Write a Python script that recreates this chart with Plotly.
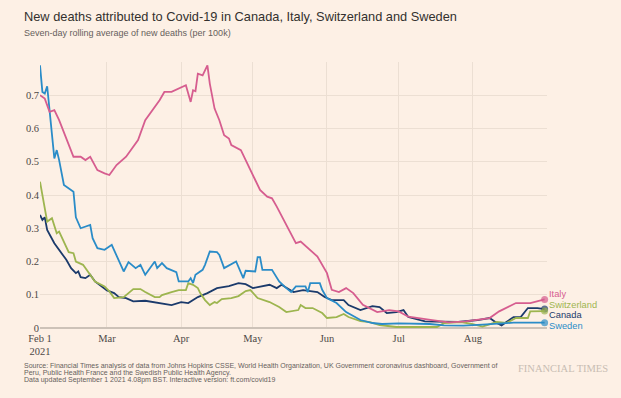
import plotly.graph_objects as go

# ---- Data ----
italy_dates = ["2021-02-01","2021-02-03","2021-02-05","2021-02-07","2021-02-09","2021-02-11","2021-02-13","2021-02-15",
               "2021-02-18","2021-02-20","2021-02-22","2021-02-25","2021-02-28","2021-03-02","2021-03-05","2021-03-09",
               "2021-03-14","2021-03-17","2021-03-23","2021-03-25","2021-03-28","2021-04-01","2021-04-03","2021-04-05",
               "2021-04-06","2021-04-07","2021-04-08","2021-04-10","2021-04-12","2021-04-13","2021-04-15","2021-04-17",
               "2021-04-19","2021-04-21","2021-04-22","2021-04-26","2021-04-28","2021-05-01","2021-05-04","2021-05-07",
               "2021-05-09","2021-05-11","2021-05-16","2021-05-19","2021-05-21","2021-05-24","2021-05-28","2021-06-01",
               "2021-06-03","2021-06-06","2021-06-09","2021-06-12","2021-06-16","2021-06-22","2021-06-27","2021-07-01",
               "2021-07-05","2021-07-15","2021-07-22","2021-07-29","2021-08-08","2021-08-12","2021-08-19","2021-08-25",
               "2021-08-31"]
italy_vals = [0.70,0.69,0.65,0.655,0.625,0.59,0.55,0.515,
              0.515,0.505,0.515,0.475,0.465,0.46,0.49,0.515,
              0.565,0.625,0.685,0.71,0.71,0.725,0.73,0.68,
              0.715,0.712,0.765,0.76,0.79,0.735,0.66,0.625,
              0.58,0.57,0.55,0.535,0.505,0.455,0.415,0.395,
              0.39,0.365,0.295,0.255,0.26,0.24,0.215,0.165,
              0.115,0.108,0.12,0.105,0.07,0.048,0.054,0.05,
              0.034,0.024,0.017,0.02,0.03,0.05,0.075,0.075,
              0.086]

swiss_dates = ["2021-02-01","2021-02-03","2021-02-04","2021-02-06","2021-02-08","2021-02-09","2021-02-11","2021-02-13",
               "2021-02-15","2021-02-16","2021-02-19","2021-02-22","2021-02-24","2021-02-28","2021-03-02","2021-03-04",
               "2021-03-08","2021-03-12","2021-03-15","2021-03-17","2021-03-21","2021-03-23","2021-03-24","2021-03-28",
               "2021-03-31","2021-04-03","2021-04-04","2021-04-06","2021-04-08","2021-04-09","2021-04-11","2021-04-13",
               "2021-04-15","2021-04-16","2021-04-18","2021-04-22","2021-04-25","2021-04-28","2021-04-30","2021-05-03",
               "2021-05-08","2021-05-12","2021-05-15","2021-05-20","2021-05-21","2021-05-23","2021-05-26","2021-05-30",
               "2021-06-01","2021-06-05","2021-06-08","2021-06-10","2021-06-15","2021-06-19","2021-06-23","2021-06-30",
               "2021-07-17","2021-07-20","2021-07-27","2021-08-01","2021-08-05","2021-08-11","2021-08-15","2021-08-19",
               "2021-08-24","2021-08-25","2021-08-31"]
swiss_vals = [0.44,0.365,0.32,0.33,0.285,0.29,0.26,0.228,
              0.225,0.20,0.19,0.16,0.14,0.125,0.11,0.09,
              0.093,0.117,0.117,0.108,0.093,0.093,0.099,0.108,
              0.114,0.114,0.135,0.13,0.12,0.105,0.084,0.069,
              0.078,0.075,0.087,0.09,0.096,0.111,0.114,0.09,
              0.078,0.063,0.048,0.054,0.069,0.06,0.06,0.045,
              0.03,0.033,0.042,0.033,0.021,0.018,0.009,0.003,
              0.003,0.015,0.018,0.012,0.004,0.018,0.015,0.03,
              0.03,0.05,0.051]

canada_dates = ["2021-02-01","2021-02-02","2021-02-03","2021-02-04","2021-02-07","2021-02-10","2021-02-12","2021-02-14",
                "2021-02-16","2021-02-17","2021-02-18","2021-02-20","2021-02-22","2021-02-24","2021-02-28","2021-03-01",
                "2021-03-04","2021-03-06","2021-03-09","2021-03-12","2021-03-17","2021-03-23","2021-03-28","2021-04-01",
                "2021-04-04","2021-04-08","2021-04-12","2021-04-16","2021-04-21","2021-04-25","2021-04-28","2021-05-01",
                "2021-05-04","2021-05-08","2021-05-11","2021-05-13","2021-05-18","2021-05-22","2021-05-28","2021-05-31",
                "2021-06-03","2021-06-08","2021-06-10","2021-06-15","2021-06-20","2021-06-23","2021-06-26","2021-06-30",
                "2021-07-03","2021-07-05","2021-07-12","2021-07-19","2021-07-26","2021-08-03","2021-08-08","2021-08-11",
                "2021-08-13","2021-08-18","2021-08-21","2021-08-24","2021-08-28","2021-08-31"]
canada_vals = [0.34,0.325,0.333,0.295,0.255,0.225,0.205,0.18,
               0.165,0.17,0.153,0.15,0.16,0.14,0.12,0.113,
               0.105,0.093,0.09,0.08,0.082,0.076,0.069,0.078,
               0.075,0.093,0.105,0.12,0.126,0.135,0.132,0.12,
               0.125,0.13,0.12,0.13,0.108,0.114,0.108,0.093,
               0.084,0.084,0.069,0.054,0.066,0.063,0.045,0.048,
               0.054,0.033,0.02,0.018,0.018,0.024,0.03,0.015,
               0.008,0.033,0.033,0.06,0.06,0.057]

sweden_dates = ["2021-02-01","2021-02-02","2021-02-03","2021-02-04","2021-02-07","2021-02-08","2021-02-09","2021-02-11",
                "2021-02-15","2021-02-16","2021-02-18","2021-02-22","2021-02-23","2021-02-25","2021-02-28","2021-03-03",
                "2021-03-08","2021-03-10","2021-03-13","2021-03-15","2021-03-17","2021-03-21","2021-03-22","2021-03-24",
                "2021-03-26","2021-03-30","2021-03-31","2021-04-04","2021-04-05","2021-04-06","2021-04-07","2021-04-10",
                "2021-04-11","2021-04-13","2021-04-16","2021-04-17","2021-04-19","2021-04-24","2021-04-27","2021-04-28",
                "2021-05-02","2021-05-03","2021-05-04","2021-05-05","2021-05-09","2021-05-12","2021-05-15","2021-05-17",
                "2021-05-19","2021-05-23","2021-05-24","2021-05-25","2021-05-29","2021-05-30","2021-06-01","2021-06-05",
                "2021-06-09","2021-06-15","2021-06-20","2021-06-24","2021-07-01","2021-07-08","2021-07-14","2021-07-20",
                "2021-07-28","2021-08-05","2021-08-12","2021-08-18","2021-08-31"]
sweden_vals = [0.79,0.71,0.705,0.727,0.51,0.535,0.505,0.43,
               0.41,0.333,0.30,0.31,0.27,0.24,0.235,0.25,
               0.17,0.198,0.18,0.19,0.16,0.20,0.18,0.195,
               0.18,0.168,0.14,0.14,0.15,0.135,0.16,0.175,
               0.19,0.23,0.228,0.22,0.18,0.20,0.15,0.172,
               0.17,0.213,0.213,0.175,0.175,0.14,0.12,0.108,
               0.125,0.125,0.108,0.135,0.135,0.115,0.09,0.075,
               0.048,0.024,0.015,0.012,0.014,0.014,0.012,0.008,
               0.007,0.01,0.014,0.016,0.016]

series = [
    ("Canada", canada_dates, canada_vals, "#1b3a6b"),
    ("Switzerland", swiss_dates, swiss_vals, "#9db54f"),
    ("Sweden", sweden_dates, sweden_vals, "#2a8cc8"),
    ("Italy", italy_dates, italy_vals, "#d65d8f"),
]

tick_vals_x = ["2021-02-01","2021-03-01","2021-04-01","2021-05-01","2021-06-01","2021-07-01","2021-08-01"]
tick_text_x = ["Feb 1<br>2021","Mar","Apr","May","Jun","Jul","Aug"]
tick_vals_y = [0,0.1,0.2,0.3,0.4,0.5,0.6,0.7]
tick_text_y = ["0","0.1","0.2","0.3","0.4","0.5","0.6","0.7"]

BG = "#fdf0e5"
W, H = 621, 398
L, R, T, B = 40, 74, 62, 70
PW, PH = W - L - R, H - T - B

def px(x):  # pixel x -> paper
    return (x - L) / PW
def py(y):  # pixel y -> paper
    return (H - B - y) / PH

fig = go.Figure()
for name, d, v, c in series:
    sizes = [0] * (len(v) - 1) + [7]
    fig.add_trace(go.Scatter(x=d, y=v, mode="lines+markers", name=name,
                             line=dict(color=c, width=1.8),
                             marker=dict(size=sizes, color=c, line=dict(width=0)),
                             cliponaxis=False, showlegend=False))

# end labels
label_y = {"Italy": 294.3, "Switzerland": 304.7, "Canada": 315.1, "Sweden": 325.5}
for name, d, v, c in series:
    fig.add_annotation(x=px(547), y=py(label_y[name]), xref="paper", yref="paper",
                       text=name, showarrow=False, xanchor="left", yanchor="middle",
                       font=dict(family="Liberation Sans, Arial, sans-serif", size=9.3, color=c))

annots = [
    dict(x=px(22), y=py(17), text="New deaths attributed to Covid-19 in Canada, Italy, Switzerland and Sweden",
         font=dict(family="Liberation Sans, Arial, sans-serif", size=12.8, color="#33302e")),
    dict(x=px(22), y=py(33), text="Seven-day rolling average of new deaths (per 100k)",
         font=dict(family="Liberation Sans, Arial, sans-serif", size=9, color="#66605c")),
    dict(x=px(22), y=py(366), text="Source: Financial Times analysis of data from Johns Hopkins CSSE, World Health Organization, UK Government coronavirus dashboard, Government of",
         font=dict(family="Liberation Sans, Arial, sans-serif", size=7, color="#66605c")),
    dict(x=px(22), y=py(373), text="Peru, Public Health France and the Swedish Public Health Agency.",
         font=dict(family="Liberation Sans, Arial, sans-serif", size=7, color="#66605c")),
    dict(x=px(22), y=py(380), text="Data updated September 1 2021 4.08pm BST. Interactive version: ft.com/covid19",
         font=dict(family="Liberation Sans, Arial, sans-serif", size=7, color="#66605c")),
]
for a in annots:
    fig.add_annotation(xref="paper", yref="paper", showarrow=False, xanchor="left", yanchor="middle", **a)

fig.add_annotation(x=px(610), y=py(368), xref="paper", yref="paper", showarrow=False,
                   xanchor="right", yanchor="middle", text="FINANCIAL TIMES",
                   font=dict(family="Liberation Serif, Times New Roman, serif", size=10.5, color="#c8bdb3"))

fig.update_layout(
    width=W, height=H,
    margin=dict(l=L, r=R, t=T, b=B),
    paper_bgcolor=BG, plot_bgcolor=BG,
    xaxis=dict(type="date", range=["2021-02-01", "2021-09-01"], tickvals=tick_vals_x, ticktext=tick_text_x,
               showgrid=True, gridcolor="#ecdfd3", gridwidth=1, ticks="", showline=False, zeroline=False,
               ticklabelstandoff=2,
               tickfont=dict(family="Liberation Serif, Times New Roman, serif", size=10.5, color="#4d4845")),
    yaxis=dict(range=[0, 0.8], tickvals=tick_vals_y, ticktext=tick_text_y,
               showgrid=True, gridcolor="#ecdfd3", gridwidth=1, ticks="", showline=False,
               zeroline=True, zerolinecolor="#cdc2b8", zerolinewidth=2,
               tickfont=dict(family="Liberation Serif, Times New Roman, serif", size=10.5, color="#4d4845")),
    font=dict(family="Liberation Sans, Arial, sans-serif"),
    hovermode=False,
)

fig.write_html("out.html", config={"displayModeBar": False, "staticPlot": True},
               post_script="document.body.style.margin='0';document.body.style.background='" + BG + "';")
